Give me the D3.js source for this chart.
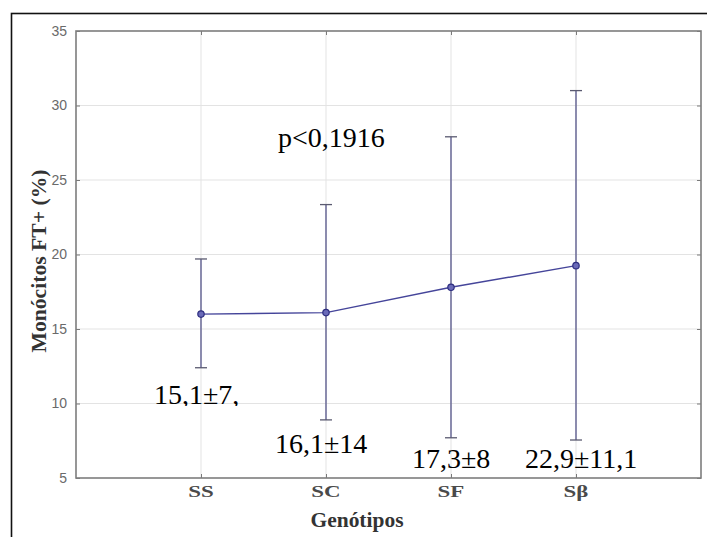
<!DOCTYPE html>
<html>
<head>
<meta charset="utf-8">
<script src="https://cdn.jsdelivr.net/npm/d3@7"></script>
<style>
  html, body { margin: 0; padding: 0; background: #fff; }
  svg { display: block; }
</style>
</head>
<body>
<svg id="chart" width="707" height="537"></svg>
<script>
// Monocytes FT+ (%) by genotype: mean with min/max whiskers
const categories = ["SS", "SC", "SF", "Sβ"];
const means = [16.0, 16.1, 17.8, 19.25];
const upper = [19.7, 23.35, 27.9, 31.0];
const lower = [12.4, 8.9, 7.7, 7.55];
const yTicks = [5, 10, 15, 20, 25, 30, 35];
const statLabels = ["15,1±7,", "16,1±14", "17,3±8", "22,9±11,1"];
const pLabel = "p<0,1916";
const xTitle = "Genótipos";
const yTitle = "Monócitos FT+ (%)";

const svg = d3.select("#chart");
const plot = { left: 76, right: 701, top: 31, bottom: 478 };

const x = d3.scaleLinear().domain([0, categories.length + 1]).range([plot.left, plot.right]);
const y = d3.scaleLinear().domain([5, 35]).range([plot.bottom, plot.top]);

// outer document frame
svg.append("rect")
  .attr("x", 11.5).attr("y", 13.5)
  .attr("width", 740).attr("height", 600)
  .attr("fill", "none").attr("stroke", "#111").attr("stroke-width", 1.6);

// grid
const grid = svg.append("g").attr("stroke", "#e3e3e3").attr("stroke-width", 1);
grid.selectAll("line.h").data(yTicks.slice(1, -1)).join("line")
  .attr("x1", plot.left).attr("x2", plot.right)
  .attr("y1", d => y(d)).attr("y2", d => y(d));
grid.selectAll("line.v").data(categories).join("line")
  .attr("x1", (d, i) => x(i + 1)).attr("x2", (d, i) => x(i + 1))
  .attr("y1", plot.top).attr("y2", plot.bottom);

// axes with inward ticks on all four sides
const tickColor = "#7a7a7a";
const yAxisL = d3.axisLeft(y).tickValues(yTicks).tickSizeInner(-4).tickSizeOuter(0).tickPadding(9);
const yAxisR = d3.axisRight(y).tickValues(yTicks).tickSizeInner(-4).tickSizeOuter(0).tickFormat("");
const xAxisB = d3.axisBottom(x).tickValues(categories.map((c, i) => i + 1)).tickSizeInner(-4).tickSizeOuter(0).tickFormat("");
const xAxisT = d3.axisTop(x).tickValues(categories.map((c, i) => i + 1)).tickSizeInner(-4).tickSizeOuter(0).tickFormat("");

function styleAxis(g) {
  g.select(".domain").remove();
  g.selectAll(".tick line").attr("stroke", tickColor).attr("stroke-width", 1);
}
const gl = svg.append("g").attr("transform", `translate(${plot.left},0)`).call(yAxisL).call(styleAxis);
gl.selectAll(".tick text")
  .attr("fill", "#6a6a6a")
  .attr("font-family", "Liberation Sans, Arial, sans-serif")
  .attr("font-size", 14);
svg.append("g").attr("transform", `translate(${plot.right},0)`).call(yAxisR).call(styleAxis);
svg.append("g").attr("transform", `translate(0,${plot.bottom})`).call(xAxisB).call(styleAxis);
svg.append("g").attr("transform", `translate(0,${plot.top})`).call(xAxisT).call(styleAxis);

// plot frame
svg.append("rect")
  .attr("x", plot.left).attr("y", plot.top)
  .attr("width", plot.right - plot.left).attr("height", plot.bottom - plot.top)
  .attr("fill", "none").attr("stroke", "#7d7d7d").attr("stroke-width", 1.6);

// category labels (wide bold serif)
svg.append("g").selectAll("g").data(categories).join("g")
  .attr("transform", (d, i) => `translate(${x(i + 1)},497) scale(1.35,1)`)
  .append("text")
  .attr("text-anchor", "middle")
  .attr("font-family", "Liberation Serif, Times New Roman, serif")
  .attr("font-weight", "bold")
  .attr("font-size", 17)
  .attr("fill", "#4a4a4a")
  .text(d => d);

// axis titles
svg.append("text")
  .attr("x", 357).attr("y", 527)
  .attr("text-anchor", "middle")
  .attr("font-family", "Liberation Serif, Times New Roman, serif")
  .attr("font-weight", "bold")
  .attr("font-size", 20)
  .attr("fill", "#333")
  .attr("textLength", 93).attr("lengthAdjust", "spacingAndGlyphs")
  .text(xTitle);

svg.append("text")
  .attr("transform", "translate(46,261) rotate(-90)")
  .attr("text-anchor", "middle")
  .attr("font-family", "Liberation Serif, Times New Roman, serif")
  .attr("font-weight", "bold")
  .attr("font-size", 20)
  .attr("fill", "#333")
  .attr("textLength", 183).attr("lengthAdjust", "spacingAndGlyphs")
  .text(yTitle);

// whiskers
const seriesColor = "#45459a";
const bars = svg.append("g");
categories.forEach((c, i) => {
  const cx = x(i + 1);
  bars.append("line")
    .attr("x1", cx).attr("x2", cx)
    .attr("y1", y(upper[i])).attr("y2", y(lower[i]))
    .attr("stroke", "#55558a").attr("stroke-width", 1.3);
  [upper[i], lower[i]].forEach(v => {
    bars.append("line")
      .attr("x1", cx - 6).attr("x2", cx + 6)
      .attr("y1", y(v)).attr("y2", y(v))
      .attr("stroke", "#5a5a70").attr("stroke-width", 1.3);
  });
});

// mean line and markers
const line = d3.line().x((d, i) => x(i + 1)).y(d => y(d));
svg.append("path")
  .datum(means)
  .attr("d", line)
  .attr("fill", "none")
  .attr("stroke", seriesColor)
  .attr("stroke-width", 1.4);
svg.append("g").selectAll("circle").data(means).join("circle")
  .attr("cx", (d, i) => x(i + 1))
  .attr("cy", d => y(d))
  .attr("r", 3.2)
  .attr("fill", "#6a6ab8")
  .attr("stroke", "#2e2e80")
  .attr("stroke-width", 1.2);

// statistics annotations
const annFont = "Liberation Serif, Times New Roman, serif";
svg.append("text")
  .attr("x", 278).attr("y", 147)
  .attr("font-family", annFont).attr("font-size", 28).attr("fill", "#000")
  .text(pLabel);

svg.append("defs").append("clipPath").attr("id", "clipFirst")
  .append("rect").attr("x", 140).attr("y", 370).attr("width", 130).attr("height", 36);

const statPos = [
  { dx: -47, y: 404 },
  { dx: -51, y: 453 },
  { dx: -39, y: 468 },
  { dx: -51, y: 468 }
];
statLabels.forEach((t, i) => {
  const txt = svg.append("text")
    .attr("x", x(i + 1) + statPos[i].dx)
    .attr("y", statPos[i].y)
    .attr("font-family", annFont).attr("font-size", 28).attr("fill", "#000")
    .text(t);
  if (i === 0) txt.attr("clip-path", "url(#clipFirst)");
});
</script>
</body>
</html>
